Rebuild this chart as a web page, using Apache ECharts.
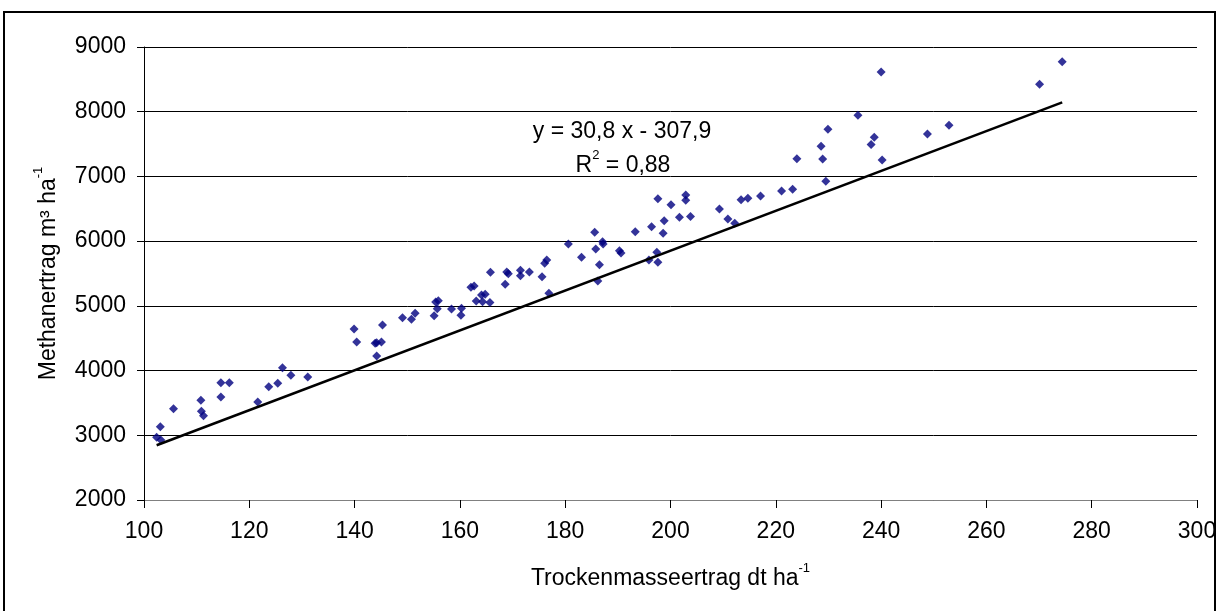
<!DOCTYPE html>
<html>
<head>
<meta charset="utf-8">
<script src="https://cdn.jsdelivr.net/npm/echarts@6/dist/echarts.min.js"></script>
<style>
  html, body { margin: 0; padding: 0; background: #fff; }
  #chart { width: 1224px; height: 611px; }
</style>
</head>
<body>
<div id="chart"></div>
<script>
// Dry matter yield (dt/ha) and methane yield (m³/ha) per plot
const dryMatter = [
  102.4, 103.2, 103.1, 105.6, 110.8, 110.9, 111.3, 114.6, 114.6, 116.2, 121.6, 123.7, 125.4, 126.3, 127.9, 131.1,
  139.9, 140.4, 143.9, 144.2, 145.1, 144.2, 145.3, 149.1, 150.8, 151.5, 155.1, 155.4, 155.9, 155.7, 158.4, 160.2,
  160.3, 162.1, 162.7, 163.1, 164.1, 164.8, 164.3, 165.7, 165.8, 168.6, 168.9, 169.2, 171.5, 171.5, 173.2, 175.6,
  176.1, 176.5, 176.9, 180.6, 183.1, 185.6, 185.8, 186.5, 186.2, 187.1, 187.2, 190.3, 190.6, 193.3, 195.9, 196.4,
  197.4, 197.6, 197.6, 198.6, 198.8, 200.1, 201.7, 202.9, 202.9, 203.8, 209.3, 210.9, 212.2, 213.4, 214.7, 217.1,
  221.1, 223.2, 224.0, 228.6, 228.9, 229.5, 229.9, 235.6, 238.1, 238.7, 240.2, 240.0, 248.8, 252.9, 270.1, 274.4
];
const methane = [
  2969, 2927, 3133, 3411, 3541, 3371, 3303, 3813, 3592, 3813, 3515, 3751, 3803, 4045, 3927, 3901,
  4643, 4442, 4422, 4431, 4442, 4226, 4705, 4818, 4793, 4886, 4849, 5060, 5080, 4957, 4952, 4855,
  4962, 5288, 5308, 5076, 5169, 5180, 5065, 5050, 5519, 5334, 5524, 5498, 5550, 5467, 5524, 5451,
  5658, 5709, 5195, 5957, 5751, 6137, 5879, 5637, 5385, 5992, 5957, 5850, 5815, 6147, 5709, 6224,
  5828, 5674, 6657, 6122, 6317, 6564, 6369, 6714, 6632, 6379, 6498, 6343, 6277, 6641, 6663, 6699,
  6776, 6802, 7275, 7467, 7270, 6926, 7729, 7946, 7492, 7606, 7255, 8615, 7657, 7790, 8425, 8774
];

// Linear trend as stated in the chart
const trendSlope = 30.8;
const trendIntercept = -307.9;
const equationText = 'y = 30,8 x - 307,9';
const r2Value = '0,88';

const xTicks = { min: 100, max: 300, step: 20 };
const yTicks = { min: 2000, max: 9000, step: 1000 };

const points = dryMatter.map((x, i) => [x, methane[i]]);
const xLo = Math.min(...dryMatter);
const xHi = Math.max(...dryMatter);
const trendLine = [xLo, xHi].map(x => [x, trendSlope * x + trendIntercept]);

const FONT = '"Liberation Sans", Arial, sans-serif';
const FS = 23;

const supRich = {
  t: { fontFamily: FONT, fontSize: FS, color: '#000', lineHeight: 28, verticalAlign: 'bottom' },
  s: { fontFamily: FONT, fontSize: 13, color: '#000', lineHeight: 28, verticalAlign: 'top' }
};

const chart = echarts.init(document.getElementById('chart'), null, { renderer: 'canvas' });
chart.setOption({
  animation: false,
  backgroundColor: '#ffffff',
  textStyle: { fontFamily: FONT, color: '#000' },
  grid: { left: 144, right: 27, top: 47, bottom: 111, containLabel: false },
  xAxis: {
    type: 'value',
    min: xTicks.min, max: xTicks.max, interval: xTicks.step,
    name: '{t|Trockenmasseertrag dt ha}{s|-1}',
    nameLocation: 'middle',
    nameGap: 62,
    nameTextStyle: { rich: supRich },
    axisLine: { show: true, lineStyle: { color: '#808080', width: 1 } },
    axisTick: { show: true, inside: false, length: 8, lineStyle: { color: '#000', width: 1 } },
    axisLabel: { fontFamily: FONT, fontSize: FS, color: '#000', margin: 20, formatter: v => String(v) },
    splitLine: { show: false }
  },
  yAxis: {
    type: 'value',
    min: yTicks.min, max: yTicks.max, interval: yTicks.step,
    name: '{t|Methanertrag m³ ha}{s|-1}',
    nameLocation: 'middle',
    nameRotate: 90,
    nameGap: 84,
    nameTextStyle: { rich: supRich },
    axisLine: { show: true, lineStyle: { color: '#000', width: 1 } },
    axisTick: { show: true, inside: false, length: 7, lineStyle: { color: '#000', width: 1 } },
    axisLabel: { fontFamily: FONT, fontSize: FS, color: '#000', margin: 18, formatter: v => String(v) },
    splitLine: { show: true, lineStyle: { color: '#000', width: 1 } }
  },
  series: [
    {
      type: 'scatter',
      data: points,
      symbol: 'diamond',
      symbolSize: 9,
      itemStyle: { color: '#000080' },
      z: 3
    },
    {
      type: 'line',
      data: trendLine,
      showSymbol: false,
      symbol: 'none',
      lineStyle: { color: '#000', width: 2.5 },
      z: 4
    }
  ],
  graphic: [
    {
      type: 'rect',
      shape: { x: 4, y: 12, width: 1211, height: 610 },
      style: { fill: 'none', stroke: '#000', lineWidth: 2 },
      silent: true
    },
    {
      type: 'text',
      x: 622, y: 132,
      style: {
        text: equationText,
        font: `${FS}px ${FONT}`,
        fill: '#000',
        align: 'center',
        verticalAlign: 'middle'
      },
      z: 10
    },
    {
      type: 'text',
      x: 623, y: 163,
      style: {
        text: '{t|R}{s|2}{t| = ' + r2Value + '}',
        align: 'center',
        verticalAlign: 'middle',
        rich: supRich
      },
      z: 10
    }
  ]
});
</script>
</body>
</html>
